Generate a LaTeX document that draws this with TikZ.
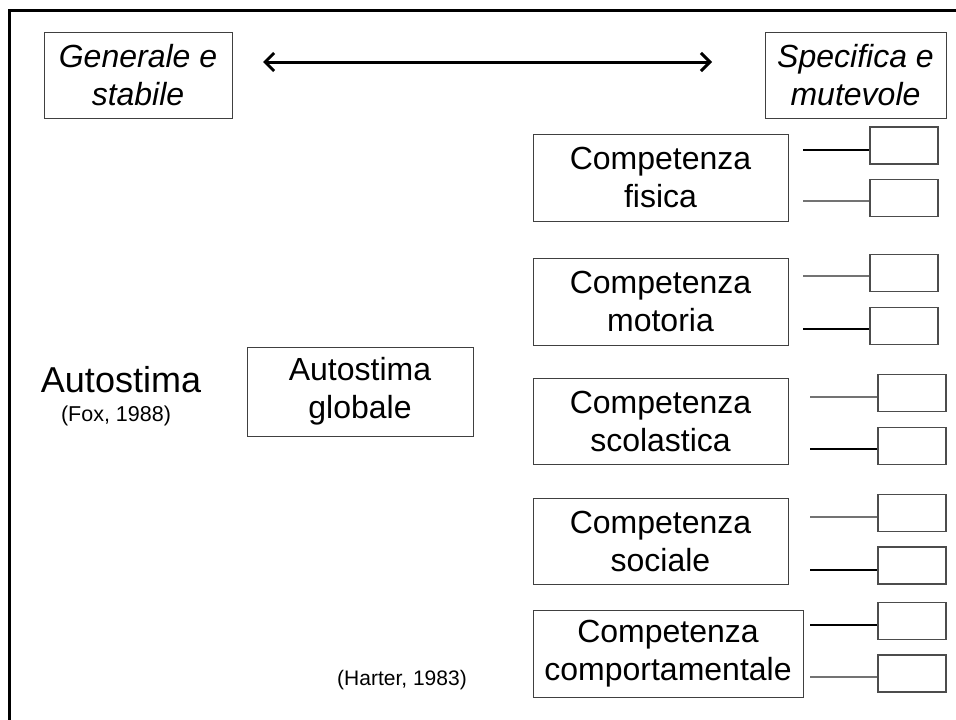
\documentclass[tikz,border=0pt]{standalone}
\usepackage{fontspec}
\setmainfont{Liberation Sans}
\usetikzlibrary{arrows.meta}
\tikzset{
  bigbox/.style={draw=black!75, line width=1pt, minimum width=255pt, minimum height=87pt, align=center, inner sep=0pt, font=\fontsize{32}{38}\selectfont},
  endbox/.style={draw=black!70, line width=1.5pt, minimum width=68pt, minimum height=37pt, inner sep=0pt},
  thickln/.style={line width=2pt, black},
  thinln/.style={line width=1.2pt, black!55},
  plain/.style={inner sep=0pt, align=center},
  barb/.tip={Straight Barb[length=9pt,width=18pt,line width=3pt]}
}
\begin{document}
\begin{tikzpicture}[x=1pt,y=-1pt]
\useasboundingbox (0,0) rectangle (956,720);
\draw[line width=3pt] (9,722) -- (9,10) -- (958,10);

\node[bigbox, minimum width=188pt, minimum height=86pt, font=\fontsize{32}{38}\selectfont\itshape] (gen) at (138,75) {Generale e\\stabile};
\node[bigbox, minimum width=181pt, minimum height=86pt, font=\fontsize{32}{38}\selectfont\itshape] (spec) at (855.5,75) {Specifica e\\mutevole};
\coordinate (al) at (263,62);
\coordinate (ar) at (712,62);
\draw[line width=3pt, barb-barb] (al) -- (ar);

\node[plain, font=\fontsize{36}{40}\selectfont] (auto) at (121,380) {Autostima};
\node[plain, font=\fontsize{21.5}{24}\selectfont] (fox) at (116,416) {(Fox, 1988)};
\node[bigbox, minimum width=226pt, minimum height=89pt] (glob) at (360,391.5) {Autostima\\globale};
\node[plain, font=\fontsize{21}{24}\selectfont] (harter) at (402,680) {(Harter, 1983)};

\node[bigbox] (fis) at (660.5,177.5) {Competenza\\fisica};
\node[bigbox] (mot) at (660.5,301.5) {Competenza\\motoria};
\node[bigbox, minimum height=86pt] (sco) at (660.5,421) {Competenza\\scolastica};
\node[bigbox, minimum height=86pt] (soc) at (660.5,541) {Competenza\\sociale};
\node[bigbox, minimum width=270pt] (comp) at (668,653.5) {Competenza\\comportamentale};

\node[endbox] (s1) at (904,145.5) {};
\node[endbox] (s2) at (904,198) {};
\node[endbox] (s3) at (904,273) {};
\node[endbox] (s4) at (904,326) {};
\node[endbox] (s5) at (912,393) {};
\node[endbox] (s6) at (912,446) {};
\node[endbox] (s7) at (912,513) {};
\node[endbox] (s8) at (912,565.5) {};
\node[endbox] (s9) at (912,621) {};
\node[endbox] (s10) at (912,673.5) {};

\coordinate (l1) at (803,150);
\coordinate (l2) at (803,201);
\coordinate (l3) at (803,276);
\coordinate (l4) at (803,329);
\coordinate (l5) at (810,397);
\coordinate (l6) at (810,449);
\coordinate (l7) at (810,517);
\coordinate (l8) at (810,570);
\coordinate (l9) at (810,625);
\coordinate (l10) at (810,677);

\draw[thickln] (l1) -- (l1 -| s1.west);
\draw[thinln] (l2) -- (l2 -| s2.west);
\draw[thinln] (l3) -- (l3 -| s3.west);
\draw[thickln] (l4) -- (l4 -| s4.west);
\draw[thinln] (l5) -- (l5 -| s5.west);
\draw[thickln] (l6) -- (l6 -| s6.west);
\draw[thinln] (l7) -- (l7 -| s7.west);
\draw[thickln] (l8) -- (l8 -| s8.west);
\draw[thickln] (l9) -- (l9 -| s9.west);
\draw[thinln] (l10) -- (l10 -| s10.west);
\end{tikzpicture}
\end{document}
